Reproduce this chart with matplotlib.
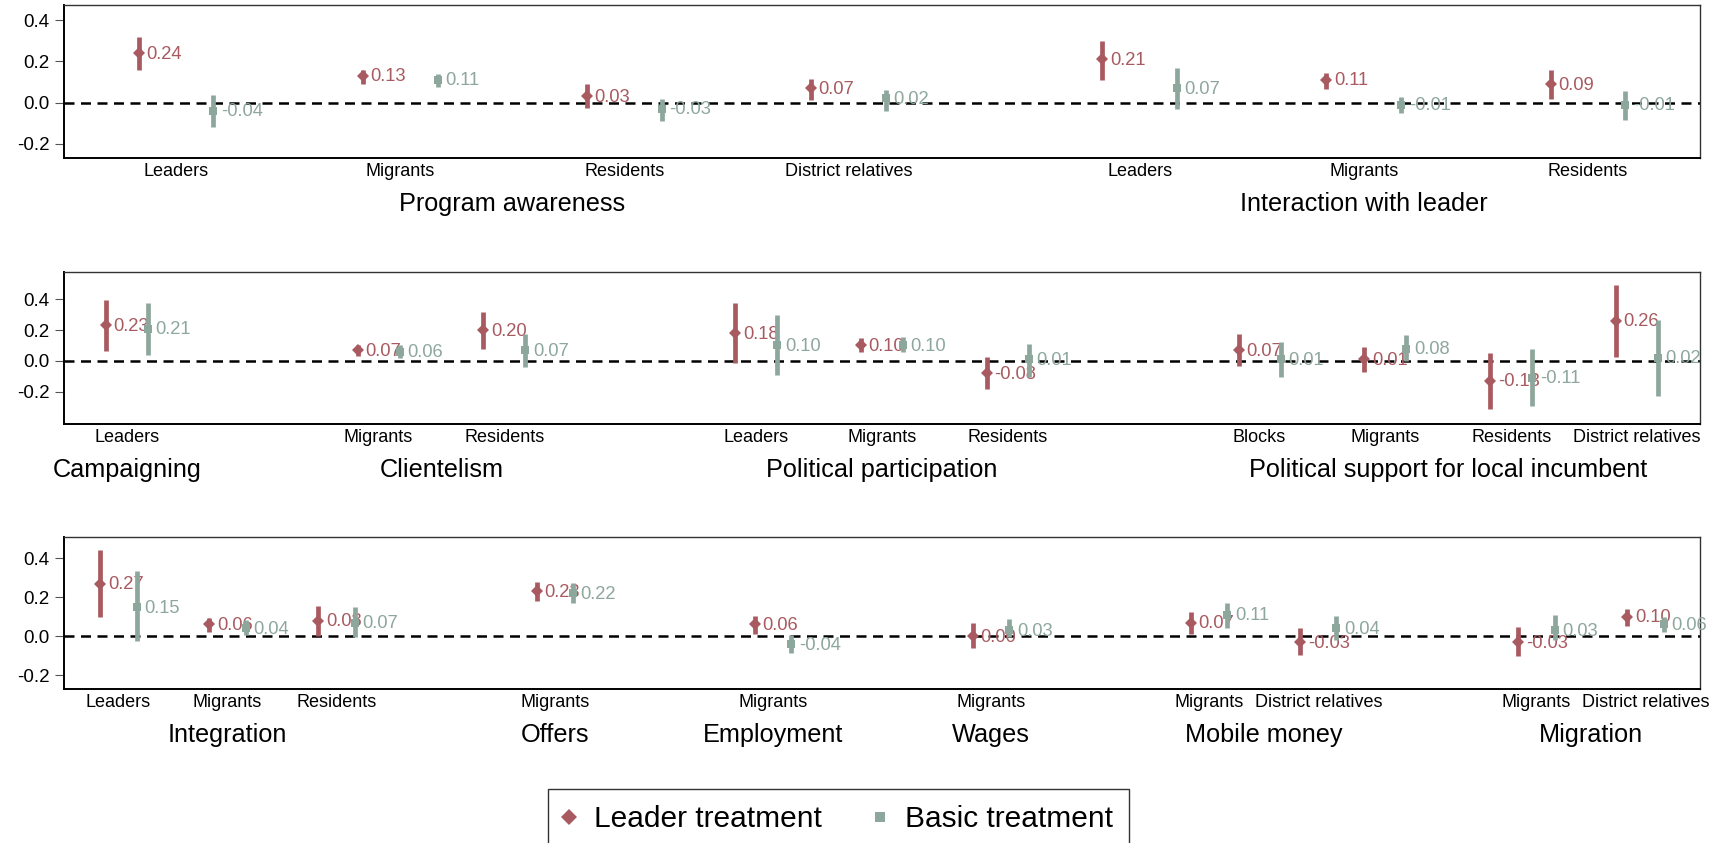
import matplotlib
matplotlib.use("Agg")
import matplotlib.pyplot as plt
from matplotlib.lines import Line2D
from matplotlib.ticker import FuncFormatter

plt.rcParams['font.family'] = ['Liberation Sans', 'DejaVu Sans']
plt.rcParams['axes.unicode_minus'] = False

LEADER_COLOR = '#a85a60'
BASIC_COLOR = '#8ea79c'

# ---------------- Panel 1 ----------------
groups1 = ["Program awareness", "Interaction with leader"]
cats1 = [["Leaders", "Migrants", "Residents", "District relatives"],
         ["Leaders", "Migrants", "Residents"]]
lead1 = [0.24, 0.13, 0.03, 0.07, 0.21, 0.11, 0.09]
lead1_lo = [0.16, 0.09, -0.025, 0.01, 0.11, 0.065, 0.015]
lead1_hi = [0.32, 0.16, 0.09, 0.115, 0.30, 0.145, 0.16]
basic1 = [-0.04, 0.11, -0.03, 0.02, 0.07, -0.01, -0.01]
basic1_lo = [-0.12, 0.075, -0.09, -0.04, -0.03, -0.05, -0.085]
basic1_hi = [0.035, 0.14, 0.015, 0.063, 0.167, 0.027, 0.056]

# ---------------- Panel 2 ----------------
groups2 = ["Campaigning", "Clientelism", "Political participation",
           "Political support for local incumbent"]
cats2 = [["Leaders"], ["Migrants", "Residents"],
         ["Leaders", "Migrants", "Residents"],
         ["Blocks", "Migrants", "Residents", "District relatives"]]
lead2 = [0.23, 0.07, 0.20, 0.18, 0.10, -0.08, 0.07, 0.01, -0.13, 0.26]
lead2_lo = [0.065, 0.03, 0.08, -0.017, 0.058, -0.185, -0.032, -0.073, -0.315, 0.022]
lead2_hi = [0.397, 0.106, 0.32, 0.375, 0.151, 0.022, 0.173, 0.087, 0.048, 0.49]
basic2 = [0.21, 0.06, 0.07, 0.10, 0.10, 0.01, 0.01, 0.08, -0.11, 0.02]
basic2_lo = [0.037, 0.02, -0.039, -0.095, 0.058, -0.103, -0.103, 0.0, -0.293, -0.228]
basic2_hi = [0.375, 0.10, 0.173, 0.296, 0.155, 0.108, 0.123, 0.166, 0.074, 0.263]

# ---------------- Panel 3 ----------------
groups3 = ["Integration", "Offers", "Employment", "Wages", "Mobile money", "Migration"]
cats3 = [["Leaders", "Migrants", "Residents"], ["Migrants"], ["Migrants"],
         ["Migrants"], ["Migrants", "District relatives"],
         ["Migrants", "District relatives"]]
lead3 = [0.27, 0.06, 0.08, 0.23, 0.06, 0.00, 0.07, -0.03, -0.03, 0.10]
lead3_lo = [0.096, 0.022, 0.0, 0.182, 0.01, -0.063, 0.01, -0.098, -0.103, 0.051]
lead3_hi = [0.442, 0.091, 0.154, 0.276, 0.104, 0.065, 0.125, 0.04, 0.048, 0.142]
basic3 = [0.15, 0.04, 0.07, 0.22, -0.04, 0.03, 0.11, 0.04, 0.03, 0.06]
basic3_lo = [-0.024, 0.005, -0.003, 0.173, -0.089, -0.003, 0.04, -0.021, -0.021, 0.022]
basic3_hi = [0.334, 0.082, 0.151, 0.271, 0.005, 0.087, 0.168, 0.103, 0.108, 0.096]

yticks = [-0.2, 0.0, 0.2, 0.4]
legend_labels = ["Leader treatment", "Basic treatment"]

FIG_W, FIG_H = 1726, 843
fig = plt.figure(figsize=(FIG_W / 100, FIG_H / 100), dpi=100)


def px_axes(top, bottom, left=64, right=1700):
    return [left / FIG_W, 1 - bottom / FIG_H, (right - left) / FIG_W, (bottom - top) / FIG_H]


def draw_panel(ax, groups, cats, L, Llo, Lhi, B, Blo, Bhi, gap, ylim):
    pos, centers, labels = [], [], []
    start = 0.0
    for cs in cats:
        p = [start + i for i in range(len(cs))]
        pos.extend(p)
        labels.extend(cs)
        centers.append((p[0] + p[-1]) / 2)
        start = p[-1] + gap
    off = 1 / 6
    ax.axhline(0, color='black', lw=1.8, ls=(0, (4.0, 2.6)), zorder=1)
    series = [(L, Llo, Lhi, -off, LEADER_COLOR, 'D', 5.8),
              (B, Blo, Bhi, off, BASIC_COLOR, 's', 6.4)]
    z = 2
    for est, lo, hi, dx, col, mk, ms in series:
        xs = [p + dx for p in pos]
        ax.vlines(xs, lo, hi, color=col, lw=3.4, zorder=z)
        ax.plot(xs, est, ls='none', marker=mk, ms=ms, color=col, mew=0, zorder=z + 0.1)
        for x, v in zip(xs, est):
            ax.annotate(f"{v:.2f}", (x, v), xytext=(5.5, -0.8), textcoords='offset points',
                        ha='left', va='center', fontsize=13.2, color=col, zorder=z + 0.2)
        z += 1
    trans = ax.get_xaxis_transform()
    for p, lab in zip(pos, labels):
        ax.annotate(lab, (p, 0), xycoords=trans, xytext=(0, -13.2), textcoords='offset points',
                    ha='center', va='baseline', fontsize=13, annotation_clip=False)
    for c, g in zip(centers, groups):
        ax.annotate(g, (c, 0), xycoords=trans, xytext=(0, -38), textcoords='offset points',
                    ha='center', va='baseline', fontsize=18.2, annotation_clip=False)
    ax.set_xlim(-0.5, pos[-1] + 0.5)
    ax.set_ylim(*ylim)
    ax.set_xticks([])
    ax.set_yticks(yticks)
    ax.yaxis.set_major_formatter(FuncFormatter(lambda v, _: f"{v:.1f}".replace("-0.0", "0.0")))
    ax.tick_params(axis='y', length=6.5, width=0.8, color='#555555', pad=4, labelsize=13.5)
    for side in ['left', 'bottom']:
        ax.spines[side].set_linewidth(1.4)
        ax.spines[side].set_color('black')
    for side in ['top', 'right']:
        ax.spines[side].set_linewidth(1.0)
        ax.spines[side].set_color('#333333')


ax1 = fig.add_axes(px_axes(5, 158))
draw_panel(ax1, groups1, cats1, lead1, lead1_lo, lead1_hi, basic1, basic1_lo, basic1_hi,
           1.3, (-0.269, 0.473))
ax2 = fig.add_axes(px_axes(272, 424))
draw_panel(ax2, groups2, cats2, lead2, lead2_lo, lead2_hi, basic2, basic2_lo, basic2_hi,
           2, (-0.41, 0.577))
ax3 = fig.add_axes(px_axes(537, 689))
draw_panel(ax3, groups3, cats3, lead3, lead3_lo, lead3_hi, basic3, basic3_lo, basic3_hi,
           2, (-0.272, 0.51))

handles = [Line2D([], [], ls='none', marker='D', ms=8, color=LEADER_COLOR, mew=0),
           Line2D([], [], ls='none', marker='s', ms=7.5, color=BASIC_COLOR, mew=0)]
leg = fig.legend(handles, legend_labels, loc='upper left',
                 bbox_to_anchor=(548 / FIG_W, 1 - 789 / FIG_H), ncol=2,
                 fontsize=21.5, frameon=True, fancybox=False, borderpad=0.55,
                 handlelength=0.3, handletextpad=0.69, columnspacing=1.79,
                 borderaxespad=0)
leg.get_frame().set_edgecolor('black')
leg.get_frame().set_linewidth(1.0)

fig.savefig("out.png", dpi=100)
